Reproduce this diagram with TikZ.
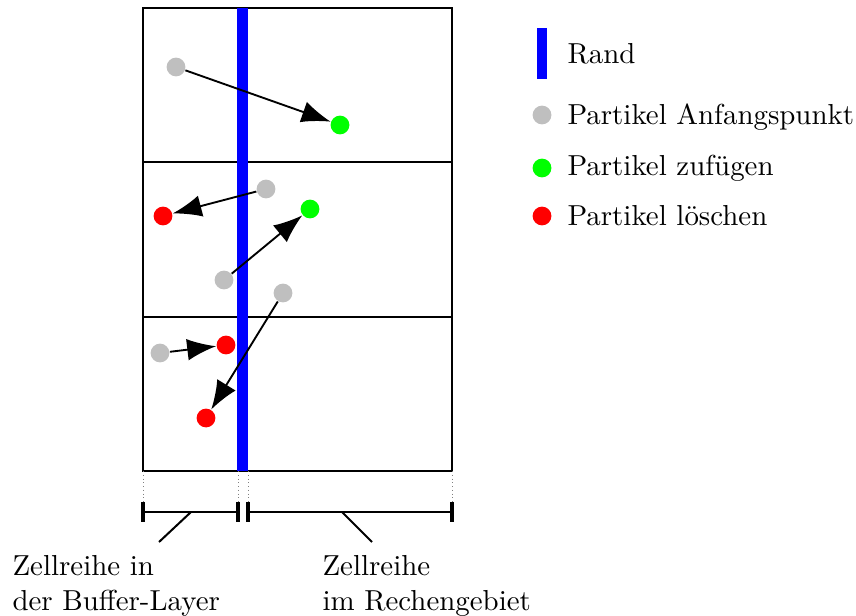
\documentclass[tikz,border=0pt]{standalone}
\usetikzlibrary{arrows.meta}
\begin{document}
\begin{tikzpicture}[x=0.346pt,y=-0.346pt,
  frame/.style={line width=1.02pt},
  rand/.style={fill=blue},
  start/.style={circle,fill=black!25,minimum size=6.5pt,inner sep=0pt},
  add/.style={circle,fill=green,minimum size=6.5pt,inner sep=0pt},
  del/.style={circle,fill=red,minimum size=6.5pt,inner sep=0pt},
  move/.style={line width=0.65pt,-{Latex[length=10pt,width=7.5pt]}},
  guide/.style={densely dotted,gray,line width=0.3pt},
  brace/.style={line width=0.7pt},
  tick/.style={line width=1.1pt},
  lbl/.style={anchor=west,inner sep=0pt}]
\useasboundingbox (0,0) rectangle (856,615);

% cell grid
\draw[frame] (143,8) rectangle (452,471);
\draw[frame] (143,162) -- (452,162);
\draw[frame] (143,317) -- (452,317);

% boundary
\fill[rand] (237,8) rectangle (248,471);

% particles
\node[start] (s1) at (176,67) {};
\node[add]   (e1) at (340,125) {};
\node[start] (s2) at (266,189) {};
\node[del]   (e2) at (163,216) {};
\node[start] (s3) at (224,280) {};
\node[add]   (e3) at (310,209) {};
\node[start] (s4) at (283,293) {};
\node[del]   (e4) at (206,418) {};
\node[start] (s5) at (160,353) {};
\node[del]   (e5) at (226,345) {};

\draw[move] (s1) -- (e1);
\draw[move] (s2) -- (e2);
\draw[move] (s3) -- (e3);
\draw[move] (s4) -- (e4);
\draw[move] (s5) -- (e5);

% extents of the two cell rows
\coordinate (g1) at (143,471);
\coordinate (g2) at (238,471);
\coordinate (g3) at (248,471);
\coordinate (g4) at (452,471);
\coordinate (b1) at (143,512);
\coordinate (b2) at (238,512);
\coordinate (b3) at (248,512);
\coordinate (b4) at (452,512);
\draw[guide] (g1) -- (b1);
\draw[guide] (g2) -- (b2);
\draw[guide] (g3) -- (b3);
\draw[guide] (g4) -- (b4);
\draw[brace] (b1) -- (b2);
\draw[brace] (b3) -- (b4);
\foreach \p in {b1,b2,b3,b4}
  \draw[tick] ([yshift=10*0.346pt]\p) -- ([yshift=-10*0.346pt]\p);

\coordinate (m1) at (191,512);
\coordinate (m2) at (342,512);
\coordinate (t1) at (159,542);
\coordinate (t2) at (372,542);
\draw[brace] (m1) -- (t1);
\draw[brace] (m2) -- (t2);

\node[anchor=north west,align=left,inner sep=0pt] (l1) at (12,555)
  {Zellreihe in\\der Buffer-Layer};
\node[anchor=north west,align=left,inner sep=0pt] (l2) at (322,555)
  {Zellreihe\\im Rechengebiet};

% legend
\fill[rand] (537,28) rectangle (547,79);
\node[lbl] (r) at (567,54) {Rand};
\node[start] (k1) at (542,115) {};
\node[lbl] at (567,117) {Partikel Anfangspunkt};
\node[add] (k2) at (542,168) {};
\node[lbl] at (567,168) {Partikel zufügen};
\node[del] (k3) at (542,216) {};
\node[lbl] at (567,216) {Partikel löschen};
\end{tikzpicture}
\end{document}
